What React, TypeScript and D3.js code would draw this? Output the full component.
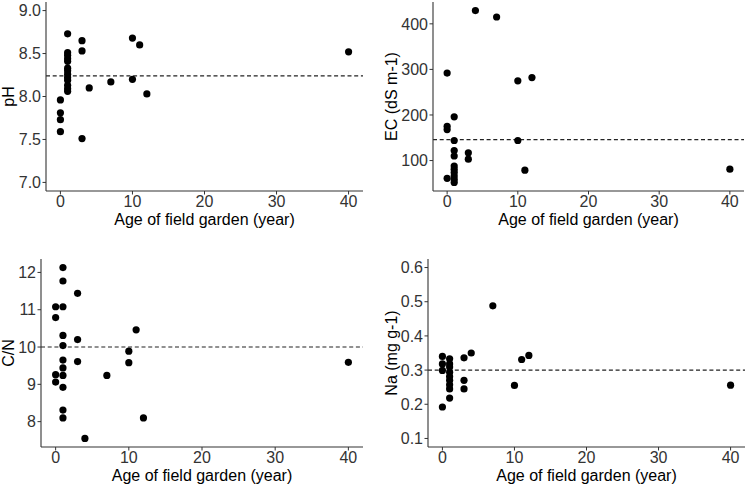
import React from "react";
import * as d3 from "d3";

const W = 747;
const H = 486;

// pH panel
const phAge = [0, 0, 0, 0, 1, 1, 1, 1, 1, 1, 1, 1, 1, 1, 1, 1, 1, 3, 3, 3, 4, 7, 10, 10, 11, 12, 40];
const phVal = [7.96, 7.81, 7.73, 7.59, 8.73, 8.51, 8.48, 8.44, 8.41, 8.33, 8.3, 8.26, 8.22, 8.19, 8.13, 8.09, 8.06, 8.65, 8.53, 7.51, 8.1, 8.17, 8.68, 8.2, 8.6, 8.03, 8.52];
const phMean = 8.24;
const phTicks = [7.0, 7.5, 8.0, 8.5, 9.0];

// EC panel
const ecAge = [0, 0, 0, 0, 1, 1, 1, 1, 1, 1, 1, 1, 1, 1, 3, 3, 4, 7, 10, 10, 11, 12, 40];
const ecVal = [292, 175, 168, 61, 196, 144, 122, 110, 88, 81, 74, 66, 59, 52, 117, 103, 429, 415, 275, 144, 79, 282, 81];
const ecMean = 146;
const ecTicks = [100, 200, 300, 400];

// C/N panel
const cnAge = [0, 0, 0, 0, 1, 1, 1, 1, 1, 1, 1, 1, 1, 1, 1, 3, 3, 3, 4, 7, 10, 10, 11, 12, 40];
const cnVal = [11.08, 10.79, 9.26, 9.06, 12.13, 11.77, 11.08, 10.31, 10.04, 9.65, 9.44, 9.24, 8.92, 8.31, 8.1, 11.44, 10.2, 9.61, 7.55, 9.24, 9.89, 9.58, 10.46, 8.1, 9.59];
const cnMean = 10.0;
const cnTicks = [8, 9, 10, 11, 12];

// Na panel
const naAge = [0, 0, 0, 0, 1, 1, 1, 1, 1, 1, 1, 1, 1, 3, 3, 3, 4, 7, 10, 11, 12, 40];
const naVal = [0.34, 0.318, 0.299, 0.192, 0.333, 0.318, 0.309, 0.294, 0.281, 0.27, 0.257, 0.245, 0.218, 0.336, 0.27, 0.245, 0.35, 0.488, 0.255, 0.331, 0.343, 0.256];
const naMean = 0.3;
const naTicks = [0.1, 0.2, 0.3, 0.4, 0.5, 0.6];

const xTicks = [0, 10, 20, 30, 40];
const xTitle = "Age of field garden (year)";

const FONT = "'Liberation Sans', Arial, sans-serif";

type PanelProps = {
  left: number;
  right: number;
  top: number;
  bottom: number;
  ages: number[];
  vals: number[];
  mean: number;
  yDomain: [number, number];
  yTicks: number[];
  yFormat: (v: number) => string;
  yTitle: string;
  yTitleX: number;
};

function Panel(p: PanelProps) {
  const x = d3.scaleLinear().domain([-2, 42]).range([p.left, p.right]);
  const y = d3.scaleLinear().domain(p.yDomain).range([p.bottom, p.top]);
  const axisCol = "#333";
  const textCol = "#333";
  const midY = (p.top + p.bottom) / 2;
  return (
    <g fontFamily={FONT}>
      <line
        x1={p.left}
        x2={p.right}
        y1={y(p.mean)}
        y2={y(p.mean)}
        stroke="#222"
        strokeWidth={1.1}
        strokeDasharray="4,2.7"
      />
      {p.ages.map((a, i) => (
        <circle key={i} cx={x(a)} cy={y(p.vals[i])} r={3.6} fill="#000" />
      ))}
      <line x1={p.left} x2={p.left} y1={p.top} y2={p.bottom} stroke={axisCol} strokeWidth={1.1} />
      <line x1={p.left} x2={p.right} y1={p.bottom} y2={p.bottom} stroke={axisCol} strokeWidth={1.1} />
      {p.yTicks.map((t) => (
        <g key={"y" + t}>
          <line x1={p.left - 3.5} x2={p.left} y1={y(t)} y2={y(t)} stroke={axisCol} strokeWidth={1} />
          <text x={p.left - 5} y={y(t)} dy="0.36em" textAnchor="end" fontSize={16} fill={textCol}>
            {p.yFormat(t)}
          </text>
        </g>
      ))}
      {xTicks.map((t) => (
        <g key={"x" + t}>
          <line x1={x(t)} x2={x(t)} y1={p.bottom} y2={p.bottom + 3.5} stroke={axisCol} strokeWidth={1} />
          <text x={x(t)} y={p.bottom + 16} textAnchor="middle" fontSize={16} fill={textCol}>
            {t}
          </text>
        </g>
      ))}
      <text x={(p.left + p.right) / 2} y={p.bottom + 34} textAnchor="middle" fontSize={16} fill="#000">
        {xTitle}
      </text>
      <text
        transform={`translate(${p.yTitleX},${midY}) rotate(-90)`}
        textAnchor="middle"
        dy="0.35em"
        fontSize={16}
        fill="#000"
      >
        {p.yTitle}
      </text>
    </g>
  );
}

export default function App() {
  return (
    <svg width={W} height={H} style={{ position: "absolute", left: 0, top: 0, background: "#fff" }}>
      <rect x={0} y={0} width={W} height={H} fill="#fff" />
      <Panel
        left={46}
        right={363}
        top={2}
        bottom={191}
        ages={phAge}
        vals={phVal}
        mean={phMean}
        yDomain={[6.9, 9.1]}
        yTicks={phTicks}
        yFormat={d3.format(".1f")}
        yTitle="pH"
        yTitleX={8}
      />
      <Panel
        left={433}
        right={744}
        top={2}
        bottom={191}
        ages={ecAge}
        vals={ecVal}
        mean={ecMean}
        yDomain={[33.2, 447.9]}
        yTicks={ecTicks}
        yFormat={d3.format("d")}
        yTitle="EC (dS m-1)"
        yTitleX={391}
      />
      <Panel
        left={41}
        right={363}
        top={259}
        bottom={447}
        ages={cnAge}
        vals={cnVal}
        mean={cnMean}
        yDomain={[7.32, 12.36]}
        yTicks={cnTicks}
        yFormat={d3.format("d")}
        yTitle="C/N"
        yTitleX={8}
      />
      <Panel
        left={428}
        right={745}
        top={259}
        bottom={447}
        ages={naAge}
        vals={naVal}
        mean={naMean}
        yDomain={[0.075, 0.625]}
        yTicks={naTicks}
        yFormat={d3.format(".1f")}
        yTitle="Na (mg g-1)"
        yTitleX={391}
      />
    </svg>
  );
}
